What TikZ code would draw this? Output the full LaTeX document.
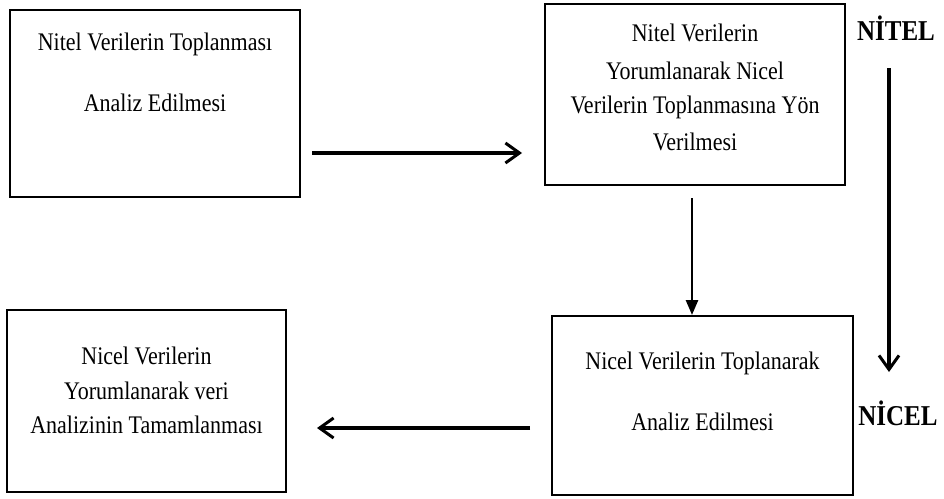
\documentclass[tikz,border=0pt]{standalone}
\usepackage{fontspec}
\usepackage{graphicx}
\setmainfont{Liberation Serif}
\usetikzlibrary{arrows.meta}
\newcommand{\vstr}[1]{\scalebox{1}[1.15]{#1}}
\begin{document}
\begin{tikzpicture}[x=1pt,y=-1pt,
  box/.style={draw=black,line width=2.6pt,inner sep=0pt},
  txt/.style={font=\fontsize{22}{22}\selectfont,inner sep=0pt,anchor=center},
  lbl/.style={font=\fontsize{25}{25}\selectfont\bfseries,inner sep=0pt},
  conn/.style={line width=3.2pt},
  barb/.style={-{Straight Barb[length=14pt,width=20pt,line width=3pt]}},
  tri/.style={-{Triangle[length=15pt,width=12pt]}}]
\useasboundingbox (0,0) rectangle (944,498);
% boxes
\node[box,minimum width=290pt,minimum height=187pt] (b1) at (155,103.5) {};
\node[box,minimum width=300pt,minimum height=181pt] (b2) at (695,94.5) {};
\node[box,minimum width=279pt,minimum height=182pt] (b3) at (146.5,401) {};
\node[box,minimum width=301pt,minimum height=179pt] (b4) at (702.5,405.5) {};
% texts
\node[txt] (t1a) at (155,44) {\vstr{Nitel Verilerin Toplanması}};
\node[txt] (t1b) at (155,103) {\vstr{Analiz Edilmesi}};
\node[txt] (t2a) at (695,33) {\vstr{Nitel Verilerin}};
\node[txt] (t2b) at (695,71) {\vstr{Yorumlanarak Nicel}};
\node[txt] (t2c) at (695,107) {\vstr{Verilerin Toplanmasına Yön}};
\node[txt] (t2d) at (695,142) {\vstr{Verilmesi}};
\node[txt] (t3a) at (146.5,356) {\vstr{Nicel Verilerin}};
\node[txt] (t3b) at (146.5,391) {\vstr{Yorumlanarak veri}};
\node[txt] (t3c) at (146.5,425) {\vstr{Analizinin Tamamlanması}};
\node[txt] (t4a) at (702.5,363) {\vstr{Nicel Verilerin Toplanarak}};
\node[txt] (t4b) at (702.5,422) {\vstr{Analiz Edilmesi}};
\node[lbl] (nitel) at (896,28) {\vstr{NİTEL}};
\node[lbl] (nicel) at (898,413) {\vstr{NİCEL}};
% connector anchors
\coordinate (a1s) at (312,153);
\coordinate (a1e) at (522,153);
\coordinate (a2s) at (692,198);
\coordinate (a2e) at (692,315);
\coordinate (a3s) at (889,68);
\coordinate (a3e) at (889,372);
\coordinate (a4s) at (530,428);
\coordinate (a4e) at (317,428);
\draw[conn,barb] (a1s) -- (a1e);
\draw[line width=2.6pt,tri] (a2s) -- (a2e);
\draw[conn,barb] (a3s) -- (a3e);
\draw[conn,barb] (a4s) -- (a4e);
\end{tikzpicture}
\end{document}
